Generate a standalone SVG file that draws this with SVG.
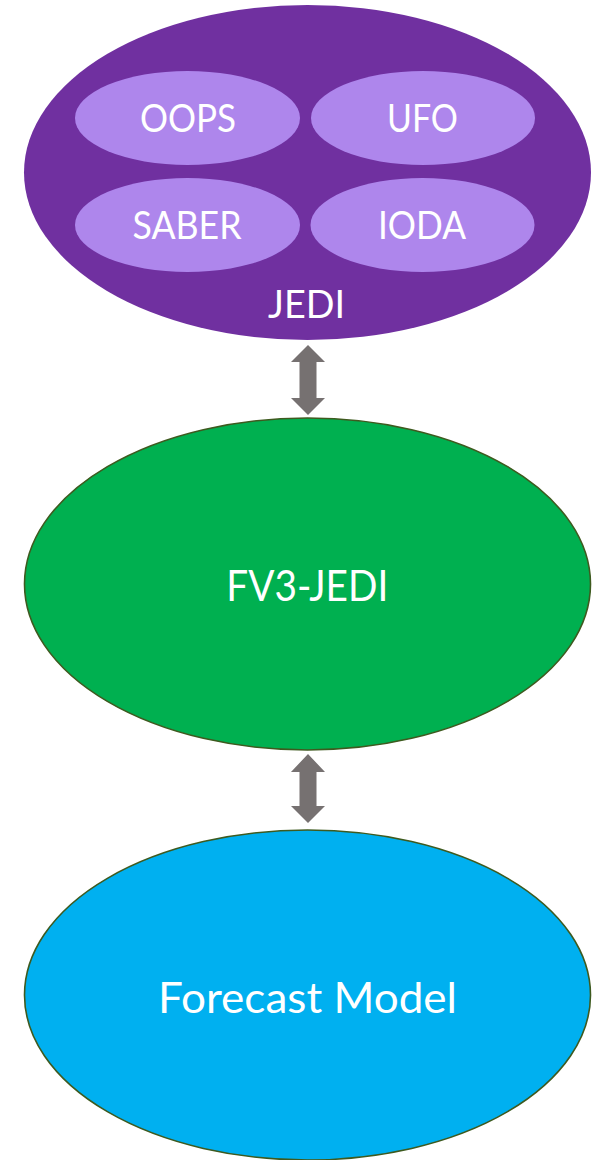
<svg xmlns="http://www.w3.org/2000/svg" width="592" height="1160" viewBox="0 0 592 1160">
  <style>
    .lbl { font-family: Lato, "Liberation Sans", sans-serif; fill: #ffffff; text-anchor: middle; }
    .sm { font-size: 38px; }
    .lg { font-size: 42px; }
    .sub { fill: #AE86EC; }
    .arrow { fill: #767171; }
    .outline { stroke: #3E5A1F; stroke-width: 1.6; }
  </style>
  <rect width="592" height="1160" fill="#ffffff"/>
  <g id="jedi">
    <ellipse cx="307.5" cy="172.5" rx="283.5" ry="167.5" fill="#7030A0"/>
    <text class="lbl sm" x="306.5" y="318" textLength="77" lengthAdjust="spacingAndGlyphs">JEDI</text>
  </g>
  <g id="oops">
    <ellipse class="sub" cx="187.5" cy="118" rx="112.5" ry="47"/>
    <text class="lbl sm" x="188" y="132" textLength="96" lengthAdjust="spacingAndGlyphs">OOPS</text>
  </g>
  <g id="ufo">
    <ellipse class="sub" cx="423" cy="118" rx="112" ry="47"/>
    <text class="lbl sm" x="422.5" y="132" textLength="71" lengthAdjust="spacingAndGlyphs">UFO</text>
  </g>
  <g id="saber">
    <ellipse class="sub" cx="187.5" cy="225" rx="112.5" ry="47"/>
    <text class="lbl sm" x="187" y="239" textLength="109" lengthAdjust="spacingAndGlyphs">SABER</text>
  </g>
  <g id="ioda">
    <ellipse class="sub" cx="422.5" cy="225" rx="112" ry="47"/>
    <text class="lbl sm" x="422" y="239" textLength="88" lengthAdjust="spacingAndGlyphs">IODA</text>
  </g>
  <g id="fv3jedi">
    <ellipse class="outline" cx="307.5" cy="584" rx="283" ry="166" fill="#00B050"/>
    <text class="lbl lg" x="307.3" y="601" textLength="162" lengthAdjust="spacingAndGlyphs">FV3-JEDI</text>
  </g>
  <g id="forecast">
    <ellipse class="outline" cx="307.5" cy="995" rx="283" ry="165" fill="#00B0F0"/>
    <text class="lbl lg" x="307.5" y="1013" textLength="299" lengthAdjust="spacingAndGlyphs">Forecast Model</text>
  </g>
  <g id="connectors">
    <polygon class="arrow" points="308,345 325,362 316.5,362 316.5,398 325,398 308,415 291,398 299.5,398 299.5,362 291,362"/>
    <polygon class="arrow" points="308,754 325,772 316.5,772 316.5,806 325,806 308,823 291,806 299.5,806 299.5,772 291,772"/>
  </g>
</svg>
